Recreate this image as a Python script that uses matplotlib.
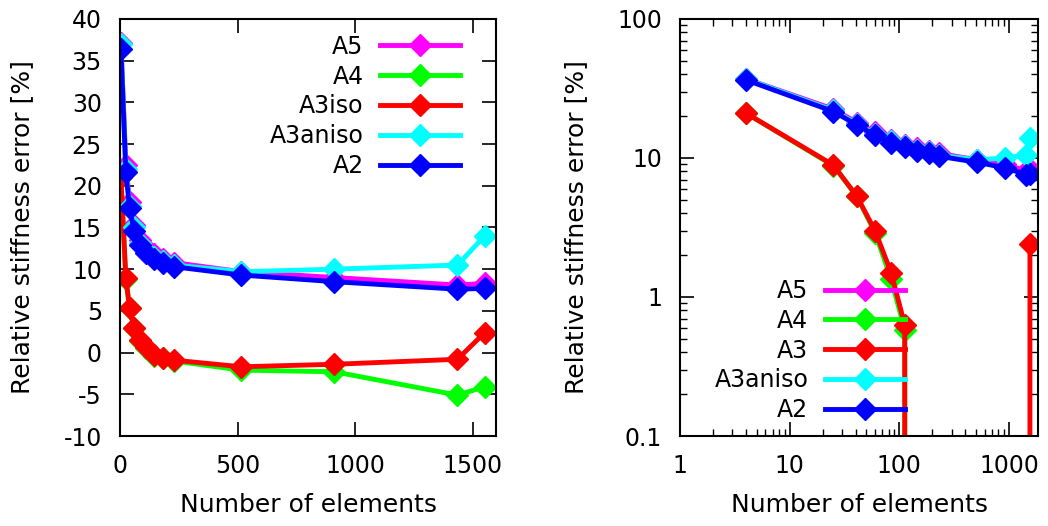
import matplotlib
matplotlib.use("Agg")
import matplotlib.pyplot as plt
from matplotlib.ticker import FixedLocator, LogLocator, NullFormatter, FuncFormatter

# number of elements per mesh
n_elem = [4, 25, 41, 60, 84, 112, 144, 185, 228, 516, 912, 1436, 1552]

# relative stiffness error [%]
err_a5 = [37.1, 22.5, 18.0, 15.3, 13.5, 12.5, 11.8, 11.2, 10.8, 9.7, 9.0, 8.1, 8.3]
err_a4 = [21.0, 8.8, 5.3, 2.9, 1.35, 0.58, -0.4, -0.7, -1.0, -2.1, -2.3, -5.1, -4.1]
err_a3iso = [21.0, 8.9, 5.3, 3.0, 1.5, 0.63, -0.3, -0.6, -0.9, -1.7, -1.4, -0.8, 2.4]
err_a3aniso = [37.0, 22.0, 17.6, 15.0, 13.2, 12.2, 11.5, 11.0, 10.5, 9.7, 10.0, 10.5, 14.0]
err_a2 = [36.4, 21.6, 17.3, 14.6, 12.9, 12.0, 11.2, 10.8, 10.3, 9.3, 8.5, 7.6, 7.7]

series = [
    ("A5", err_a5, "#ff00ff"),
    ("A4", err_a4, "#00ff00"),
    ("A3iso", err_a3iso, "#ff0000"),
    ("A3aniso", err_a3aniso, "#00ffff"),
    ("A2", err_a2, "#0000ff"),
]
right_labels = ["A5", "A4", "A3", "A3aniso", "A2"]

plt.rcParams["font.family"] = "DejaVu Sans"
plt.rcParams["axes.unicode_minus"] = False
FS = 17
FS_LAB = 18

fig = plt.figure(figsize=(10.48, 5.26), dpi=100)
ax1 = fig.add_axes([0.1145, 0.1711, 0.3588, 0.7928])
ax2 = fig.add_axes([0.6489, 0.1711, 0.3416, 0.7928])

for (name, vals, col) in series:
    ax1.plot(n_elem, vals, color=col, lw=3.5, marker="D", ms=11, label=name)
for (name, vals, col), lab in zip(series, right_labels):
    ax2.plot(n_elem, vals, color=col, lw=3.5, marker="D", ms=11, label=lab)

# left: linear axes
ax1.set_xlim(0, 1600)
ax1.set_ylim(-10, 40)
ax1.xaxis.set_major_locator(FixedLocator([0, 500, 1000, 1500]))
ax1.yaxis.set_major_locator(FixedLocator(range(-10, 41, 5)))

# right: log axes, non-positive values clipped so lines drop off the bottom
ax2.set_xscale("log", nonpositive="clip")
ax2.set_yscale("log", nonpositive="clip")
ax2.set_xlim(1, 1840)
ax2.set_ylim(0.1, 100)
fmt = FuncFormatter(lambda v, p: f"{v:g}")
for axis in (ax2.xaxis, ax2.yaxis):
    axis.set_major_locator(LogLocator(base=10))
    axis.set_minor_locator(LogLocator(base=10, subs=range(2, 10)))
    axis.set_major_formatter(fmt)
    axis.set_minor_formatter(NullFormatter())

for ax in (ax1, ax2):
    ax.tick_params(which="major", direction="in", length=10, width=1.2,
                   top=True, right=True, labelsize=FS, pad=13)
    ax.tick_params(which="minor", direction="in", length=5, width=1.0,
                   top=True, right=True)
    for s in ax.spines.values():
        s.set_linewidth(1.5)
    ax.set_xlabel("Number of elements", fontsize=FS_LAB, labelpad=11)
    ax.set_ylabel("Relative stiffness error [%]", fontsize=FS_LAB, labelpad=21)

leg_kw = dict(markerfirst=False, frameon=False, fontsize=FS, handlelength=3.4,
              labelspacing=0.25, handletextpad=0.7, borderaxespad=0)
ax1.legend(loc="upper right", bbox_to_anchor=(0.93, 0.985), **leg_kw)
ax2.legend(loc="lower right", bbox_to_anchor=(0.655, 0.01), **leg_kw)

fig.savefig("out.png", dpi=100)
